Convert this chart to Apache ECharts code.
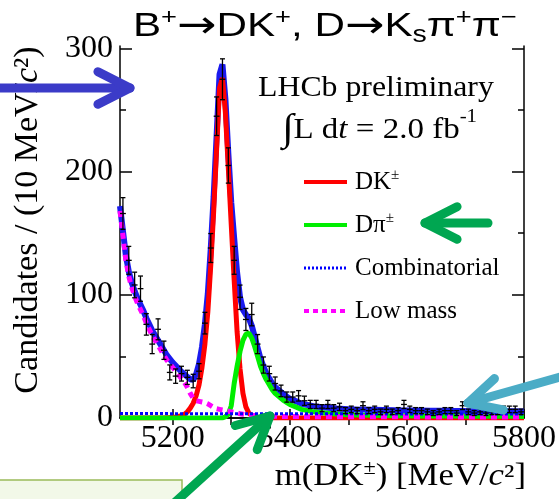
<!DOCTYPE html>
<html>
<head>
<meta charset="utf-8">
<script src="https://cdn.jsdelivr.net/npm/echarts@6/dist/echarts.min.js"></script>
<style>
  html, body { margin: 0; padding: 0; background: #fff; }
  #chart { width: 559px; height: 499px; }
</style>
</head>
<body>
<div id="chart"></div>
<script>
// histogram: 10 MeV bins
var binCenters = [5115,5125,5135,5145,5155,5165,5175,5185,5195,5205,
  5215,5225,5235,5245,5255,5265,5275,5285,5295,5305,
  5315,5325,5335,5345,5355,5365,5375,5385,5395,5405,
  5415,5425,5435,5445,5455,5465,5475,5485,5495,5505,
  5515,5525,5535,5545,5555,5565,5575,5585,5595,5605,
  5615,5625,5635,5645,5655,5665,5675,5685,5695,5705,
  5715,5725,5735,5745,5755,5765,5775,5785,5795];
var counts = [166,128,108,105,76,60,72,55,37,34,
  36,33,30,38,77,138,245,275,205,128,
  98,80,84,60,43,36,28,22,17,17,
  18,14,11,11,8,11,8,9,6,7,
  6,10,6,7,5,7,5,6,11,7,
  6,6,5,4,5,6,6,4,10,5,
  4,5,4,5,5,7,7,7,5];

// fit curves
var curveX = [5110,5115,5120,5125,5130,5135,5140,5145,5150,5155,
  5160,5165,5170,5175,5180,5185,5190,5195,5200,5205,
  5210,5215,5220,5225,5230,5235,5240,5245,5250,5255,
  5260,5265,5270,5275,5280,5285,5290,5295,5300,5305,
  5310,5315,5320,5325,5330,5335,5340,5345,5350,5355,
  5360,5365,5370,5375,5380,5385,5390,5395,5400,5405,
  5410,5415,5420,
  5440,5460,5480,5500,5520,5540,5560,5580,5600,5620,5640,5660,5680,5700,5720,5740,5760,5780,5800];
var totalFit = [172,152,132,119,110,103,97,92,87,81,
  76,71,67,63,59,55,51,48,45,42.5,
  40,37.5,35.5,33.5,31.5,31,35.5,44,57.5,76,
  101,137.5,180,229,279,287,259,215,175,146,
  118,98,88,84,81,75,66,57,48,42,
  36,32,28,25,23,21,19,17.3,15.7,14.7,
  13.7,12.7,11.6,
  9.6,8.6,7.7,7.1,6.8,6.6,6.4,6.2,6.1,6.0,5.9,5.8,5.7,5.6,5.55,5.5,5.45,5.4,5.3];
var dkFit = [0,0,0,0,0,0,0,0,0,0,
  0,0,0,0,0,0,0.3,0.4,0.6,0.9,
  1.3,2,3,5,8,12,18,27,41,60,
  86,124,168,218,268,276,248,203,157,112,
  70,40,20,9,4,2,1,0.5,0.3,0.2,
  0.1,0,0,0,0,0,0,0,0,0,
  0,0,0,
  0,0,0,0,0,0,0,0,0,0,0,0,0,0,0,0,0,0,0];
var dpiFit = [0,0,0,0,0,0,0,0,0,0,
  0,0,0,0,0,0,0,0,0,0,
  0,0,0,0,0,0,0,0,0,0,
  0,0,0,0,0,0,1,3,10,28,
  42,54,63,68,69,65,58,50,42,36,
  31,27,23,20,18,16,14,12.5,11,10,
  9,8,7,
  5,4,3.2,2.7,2.4,2.2,2.0,1.9,1.8,1.7,1.65,1.6,1.55,1.5,1.45,1.4,1.4,1.35,1.3];
var lowMassFit = [168,148,128,115,106,99,93,88,83,77,
  72,67,63,59,55,51,47,44,41,38,
  35,32,29,25,20,16,14,13.5,13,12.5,
  11.5,10,8.5,7.5,7,6.5,6,5.5,5,4.5,
  4,3.5,3,2.5,2.2,2.1,2,1.9,1.8,1.7,
  1.6,1.5,1.5,1.4,1.4,1.3,1.3,1.3,1.2,1.2,
  1.2,1.2,1.1,
  1.1,1.1,1.0,1.0,1.0,1.0,1.0,1.0,1.0,0.9,0.9,0.9,0.9,0.9,0.9,0.9,0.9,0.9,0.9];
var combX = [5110, 5800];
var combFit = [3.6, 3.2];

var xMajorTicks = [5200, 5400, 5600, 5800];
var xMinorTicks = [5300, 5500, 5700];
var xTopTicks = [5200, 5300, 5400, 5500, 5600, 5700];
var yMajorTicks = [0, 100, 200, 300];
var yMinorTicks = [50, 150, 250];

var serif = 'Liberation Serif';
var sans = 'Liberation Sans';

function pairs(xs, ys) {
  return xs.map(function (x, i) { return [x, ys[i]]; });
}

function arrow(x1, y1, x2, y2, color) {
  var a = Math.atan2(y1 - y2, x1 - x2), L = 36, s = 0.47;
  var st = { stroke: color, lineWidth: 9, lineCap: 'round', lineJoin: 'round', fill: null };
  return [
    { type: 'line', z: 100, shape: { x1: x1, y1: y1, x2: x2, y2: y2 }, style: st },
    { type: 'polyline', z: 100, shape: { points: [
      [x2 + L * Math.cos(a + s), y2 + L * Math.sin(a + s)], [x2, y2],
      [x2 + L * Math.cos(a - s), y2 + L * Math.sin(a - s)] ] }, style: st }
  ];
}

// legend sample line + label
function legendRow(y, label, color, width, dash) {
  return [
    { type: 'line', z: 100, shape: { x1: 304, y1: y, x2: 347, y2: y },
      style: { stroke: color, lineWidth: width, lineDash: dash } },
    { type: 'text', z: 100, x: 355, y: y,
      style: { text: label, align: 'left', verticalAlign: 'middle',
        rich: {
          t: { fontFamily: serif, fontSize: 25, lineHeight: 28, fill: '#000', verticalAlign: 'middle' },
          s: { fontFamily: serif, fontSize: 15, lineHeight: 26, fill: '#000', verticalAlign: 'top' }
        } } }
  ];
}

function renderBar(params, api) {
  var x = api.value(0), n = api.value(1), e = Math.sqrt(n);
  var c = api.coord([x, n]);
  var lo = api.coord([x, Math.max(n - e, 0)]);
  var hi = api.coord([x, n + e]);
  var w = api.size([10, 0])[0] / 2;
  var st = { stroke: '#000', lineWidth: 1.3 };
  return { type: 'group', children: [
    { type: 'line', shape: { x1: c[0] - w, y1: c[1], x2: c[0] + w, y2: c[1] }, style: st },
    { type: 'line', shape: { x1: c[0], y1: lo[1], x2: c[0], y2: hi[1] }, style: st },
    { type: 'line', shape: { x1: c[0] - 2.5, y1: lo[1], x2: c[0] + 2.5, y2: lo[1] }, style: st },
    { type: 'line', shape: { x1: c[0] - 2.5, y1: hi[1], x2: c[0] + 2.5, y2: hi[1] }, style: st }
  ] };
}

function lineSeries(name, xs, ys, color, width, type, z) {
  return {
    name: name, type: 'line', data: pairs(xs, ys), symbol: 'none', z: z,
    color: color, lineStyle: { color: color, width: width, type: type }
  };
}

var axisLine = { show: true, lineStyle: { color: '#000', width: 1.5 } };
var tickStyle = { color: '#000', width: 1.5 };
var plainNum = function (v) { return String(v); };

var graphics = [
  { type: 'rect', z: 90, shape: { x: -2, y: 480, width: 184, height: 30 },
    style: { fill: '#f2f8e8', stroke: '#9bbb59', lineWidth: 1.5 } },
  { type: 'text', z: 100, x: 133, y: 7, scaleX: 1.24,
    style: { text: '{n|B}{p|+}{a|→}{n|DK}{p|+}{n|, D}{a|→}{n|K}{b|s}{n|π}{p|+}{n|π}{p|−}',
      align: 'left', verticalAlign: 'top',
      rich: {
        n: { fontFamily: sans, fontSize: 34, lineHeight: 40, fill: '#000', verticalAlign: 'middle' },
        a: { fontFamily: 'DejaVu Sans', fontSize: 38, lineHeight: 40, fill: '#000', verticalAlign: 'middle' },
        p: { fontFamily: sans, fontSize: 22, lineHeight: 22, fill: '#000', verticalAlign: 'top' },
        b: { fontFamily: sans, fontSize: 23, lineHeight: 6, fill: '#000', verticalAlign: 'bottom' }
      } } },
  { type: 'text', z: 100, x: 258, y: 88, scaleX: 1.06,
    style: { text: 'LHCb preliminary', fontFamily: serif, fontSize: 30, fill: '#000',
      align: 'left', verticalAlign: 'middle' } },
  { type: 'text', z: 100, x: 282, y: 130, scaleX: 1.1,
    style: { text: '{g|∫}{t|L d}{i|t}{t| = 2.0 fb}{p|-1}', align: 'left', verticalAlign: 'middle',
      rich: {
        g: { fontFamily: serif, fontSize: 38, lineHeight: 44, fill: '#000', verticalAlign: 'middle' },
        t: { fontFamily: serif, fontSize: 30, lineHeight: 34, fill: '#000', verticalAlign: 'middle' },
        i: { fontFamily: serif, fontSize: 30, lineHeight: 34, fill: '#000', fontStyle: 'italic', verticalAlign: 'middle' },
        p: { fontFamily: serif, fontSize: 19, lineHeight: 30, fill: '#000', verticalAlign: 'top' }
      } } },
  { type: 'text', z: 100, x: 28, y: 220, rotation: Math.PI / 2,
    style: { text: '{t|Candidates / (10 MeV/}{i|c}{t|²)}', align: 'center', verticalAlign: 'middle',
      rich: {
        t: { fontFamily: serif, fontSize: 34, fill: '#000' },
        i: { fontFamily: serif, fontSize: 34, fill: '#000', fontStyle: 'italic' }
      } } },
  { type: 'text', z: 100, x: 526, y: 477, scaleX: 1.12,
    style: { text: '{t|m(DK}{p|±}{t|) [MeV/}{i|c}{t|²]}', align: 'right', verticalAlign: 'middle',
      rich: {
        t: { fontFamily: serif, fontSize: 31, lineHeight: 36, fill: '#000', verticalAlign: 'middle' },
        i: { fontFamily: serif, fontSize: 31, lineHeight: 36, fill: '#000', fontStyle: 'italic', verticalAlign: 'middle' },
        p: { fontFamily: serif, fontSize: 20, lineHeight: 30, fill: '#000', verticalAlign: 'top' }
      } } }
].concat(
  legendRow(182, '{t|DK}{s|±}', '#ff0000', 4, null),
  legendRow(225, '{t|Dπ}{s|±}', '#00ee00', 4, null),
  legendRow(268, '{t|Combinatorial}', '#0000ff', 3, [2, 2]),
  legendRow(311, '{t|Low mass}', '#ff00ff', 4, [5, 4]),
  arrow(-10, 88, 130, 88, '#3b3bc8'),
  arrow(488, 223, 425, 223, '#00a651'),
  arrow(585, 370, 468, 403, '#4bacc6'),
  arrow(150, 525, 270, 416, '#00a651')
);

var chart = echarts.init(document.getElementById('chart'));
chart.setOption({
  animation: false,
  backgroundColor: '#fff',
  textStyle: { fontFamily: serif },
  grid: { left: 120, right: 33, top: 46, bottom: 81 },
  xAxis: [
    { type: 'value', min: 5110, max: 5800, position: 'bottom', offset: 0,
      axisLine: axisLine, splitLine: { show: false },
      axisTick: { inside: true, length: 9, customValues: xMajorTicks, lineStyle: tickStyle },
      axisLabel: { customValues: xMajorTicks, formatter: plainNum, margin: 5,
        fontFamily: serif, fontSize: 32, color: '#000' } },
    { type: 'value', min: 5110, max: 5800, position: 'bottom', offset: 0,
      axisLine: { show: false }, splitLine: { show: false }, axisLabel: { show: false },
      axisTick: { inside: true, length: 5, customValues: xMinorTicks, lineStyle: tickStyle } },
    { type: 'value', min: 5110, max: 5800, position: 'top', offset: 0,
      axisLine: axisLine, splitLine: { show: false }, axisLabel: { show: false },
      axisTick: { inside: true, length: 7, customValues: xTopTicks, lineStyle: tickStyle } }
  ],
  yAxis: [
    { type: 'value', min: 0, max: 302, position: 'left', offset: 0,
      axisLine: axisLine, splitLine: { show: false },
      axisTick: { inside: true, length: 12, customValues: yMajorTicks, lineStyle: tickStyle },
      axisLabel: { customValues: yMajorTicks, formatter: plainNum, margin: 7,
        fontFamily: serif, fontSize: 32, color: '#000' } },
    { type: 'value', min: 0, max: 302, position: 'left', offset: 0,
      axisLine: { show: false }, splitLine: { show: false }, axisLabel: { show: false },
      axisTick: { inside: true, length: 6, customValues: yMinorTicks, lineStyle: tickStyle } },
    { type: 'value', min: 0, max: 302, position: 'right', offset: 0,
      axisLine: axisLine, splitLine: { show: false }, axisLabel: { show: false },
      axisTick: { inside: true, length: 12, customValues: yMajorTicks, lineStyle: tickStyle } },
    { type: 'value', min: 0, max: 302, position: 'right', offset: 0,
      axisLine: { show: false }, splitLine: { show: false }, axisLabel: { show: false },
      axisTick: { inside: true, length: 6, customValues: yMinorTicks, lineStyle: tickStyle } }
  ],
  series: [
    lineSeries('Total', curveX, totalFit, '#1a1aee', 6, 'solid', 2),
    lineSeries('DK±', curveX, dkFit, '#ff0000', 5, 'solid', 3),
    lineSeries('Dπ±', curveX, dpiFit, '#00ee00', 5, 'solid', 4),
    lineSeries('Low mass', curveX, lowMassFit, '#ff00ff', 5, [6, 5], 5),
    lineSeries('Combinatorial', combX, combFit, '#0000ff', 3, [3, 2], 6),
    { name: 'Data', type: 'custom', renderItem: renderBar, data: pairs(binCenters, counts), z: 10,
      encode: { x: 0, y: 1 } }
  ],
  graphic: graphics
});
</script>
</body>
</html>
